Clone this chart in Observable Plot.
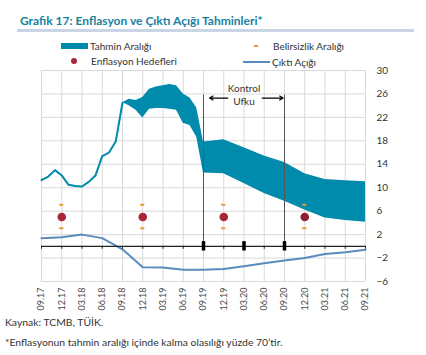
<!DOCTYPE html>
<html><head><meta charset="utf-8">
<script src="https://cdn.jsdelivr.net/npm/d3@7"></script>
<script src="https://cdn.jsdelivr.net/npm/@observablehq/plot@0.6"></script>
<style>
body{margin:0;background:#fff;font-family:Lato,"Noto Sans",sans-serif;}
#wrap{position:relative;width:426px;height:355px;overflow:hidden;background:#fff;}
.t{position:absolute;white-space:nowrap;color:#333;font-size:10px;line-height:12px;height:12px;}
</style></head><body>
<div id="wrap">
  <div class="t" style="left:20px;top:14px;font-weight:bold;color:#17809f;font-size:12px;line-height:14px;height:14px;">Grafik 17: Enflasyon ve Çıktı Açığı Tahminleri*</div>
  <div style="position:absolute;left:17px;top:29px;width:397px;height:3px;background:#c9d5e4"></div>
  <div style="position:absolute;left:61px;top:43px;width:27px;height:6px;background:#008aac"></div>
  <div class="t" style="left:90px;top:40px;">Tahmin Aralığı</div>
  <div style="position:absolute;left:254px;top:45px;width:4px;height:2px;background:#e59b36"></div>
  <div class="t" style="left:273px;top:40px;">Belirsizlik Aralığı</div>
  <div style="position:absolute;left:71px;top:58px;width:6px;height:6px;border-radius:50%;background:#a92639"></div>
  <div class="t" style="left:91px;top:55px;">Enflasyon Hedefleri</div>
  <div style="position:absolute;left:243px;top:61px;width:27px;height:2px;background:#5a8bbf"></div>
  <div class="t" style="left:272px;top:56px;">Çıktı Açığı</div>
  <div id="chart" style="position:absolute;left:0;top:62px;"></div>
  <div class="t" style="left:5px;top:316px;font-size:10.4px;">Kaynak: TCMB, TÜİK.</div>
  <div class="t" style="left:5px;top:336px;font-size:10.4px;">*Enflasyonun tahmin aralığı içinde kalma olasılığı yüzde 70’tir.</div>
</div>
<script>
// quarterly tick labels (month index = 3 * position)
const tickLabels = ["09.17","12.17","03.18","06.18","09.18","12.18","03.19","06.19","09.19","12.19","03.20","06.20","09.20","12.20","03.21","06.21","09.21"];
const yTicks = [-6,-2,2,6,10,14,18,22,26,30];

// realised inflation (month index from 09.17)
const inflMonths = [0,1,2,3,4,5,6,7,8,9,10,11,12];
const inflValues = [11.3,11.9,13.0,12.1,10.5,10.3,10.2,11.0,12.1,15.4,16.0,17.9,24.5];

// forecast / uncertainty band
const bandMonths = [12,13,14,15,16,17,18,19,20,21,22,23,24,27,30,33,36,39,42,45,48];
const bandLow  = [24.5,24.0,23.2,21.9,23.4,23.5,23.5,23.4,23.2,21.0,20.6,18.6,12.5,12.4,10.7,9.0,7.7,6.2,4.85,4.4,4.1];
const bandHigh = [24.5,25.1,24.9,25.4,26.8,27.2,27.4,27.6,27.4,26.0,25.3,23.6,17.8,18.2,16.8,15.4,14.3,12.4,11.4,11.2,11.0];

// output gap (quarterly)
const gapMonths = [0,3,6,9,12,15,18,21,24,27,30,33,36,39,42,45,48];
const gapValues = [1.4,1.55,2.0,1.4,-0.5,-3.55,-3.6,-4.0,-4.0,-3.85,-3.4,-2.9,-2.4,-2.0,-1.3,-1.0,-0.6];

// inflation targets and uncertainty range
const targetMonths = [3,15,27,39];
const targetValues = [5,5,5,5];
const targetColors = ["#a92639","#a92639","#a92639","#8e1d2f"];
const uncLow = [3,3,3,3];
const uncHigh = [7,7,7,7];

// control horizon
const horizon = [24,36];
const markers = [24,30,36];
const horizonLabel = "Kontrol\nUfku";

const teal = "#008aac";
const qIdx = tickLabels.map((d,i)=>i*3);
const infl = inflMonths.map((m,i)=>({m, v: inflValues[i]}));
const band = bandMonths.map((m,i)=>({m, lo: bandLow[i], hi: bandHigh[i]}));
const gap = gapMonths.map((m,i)=>({m, v: gapValues[i]}));
const targets = targetMonths.map((m,i)=>({m, v: targetValues[i], lo: uncLow[i], hi: uncHigh[i], c: targetColors[i]}));
const dashes = targets.flatMap(d=>[{m:d.m, v:d.lo},{m:d.m, v:d.hi}]);
const hc = (horizon[0]+horizon[1])/2;
const arrows = [
  {x1: hc-2.4, x2: horizon[0]+0.9},
  {x1: hc+2.7, x2: horizon[1]-0.2}
];
const arrowY = 25.3;

const plot = Plot.plot({
  width: 426, height: 248,
  marginTop: 8, marginBottom: 29, marginLeft: 41, marginRight: 61,
  style: {fontFamily: "Lato, 'Noto Sans', sans-serif", fontSize: "9px", color: "#333", background: "transparent", overflow: "visible"},
  x: {domain: [0,48], axis: null},
  y: {domain: [-6,30], axis: null},
  marks: [
    Plot.gridX(qIdx, {stroke: "#d9d9d9", strokeOpacity: 1}),
    Plot.gridY(yTicks, {stroke: "#d9d9d9", strokeOpacity: 1}),
    Plot.axisX(qIdx, {tickSize: 0, tickPadding: 6, tickRotate: -90, tickFormat: d => tickLabels[d/3], fill: "#444", fontSize: 9}),
    Plot.axisY(yTicks, {anchor: "right", tickSize: 0, tickPadding: 11, fill: "#333", fontSize: 10}),
    Plot.areaY(band, {x: "m", y1: "lo", y2: "hi", fill: teal}),
    Plot.line(infl, {x: "m", y: "v", stroke: teal, strokeWidth: 2}),
    Plot.line(gap, {x: "m", y: "v", stroke: "#5a8bbf", strokeWidth: 2}),
    Plot.ruleY([0], {stroke: "#222", strokeWidth: 1.3}),
    Plot.ruleX(qIdx, {y1: 0, y2: -0.5, stroke: "#222"}),
    Plot.ruleX(horizon, {y1: 0, y2: 25.8, stroke: "#555"}),
    Plot.ruleX(markers, {y1: -0.8, y2: 0.8, stroke: "#000", strokeWidth: 3.5}),
    Plot.arrow(arrows, {x1: "x1", x2: "x2", y1: arrowY, y2: arrowY, stroke: "#000", strokeWidth: 1.2, headLength: 5}),
    Plot.text([horizonLabel], {x: hc, y: 26.0, text: d => d, lineHeight: 1.33, fontSize: 10, fill: "#333"}),
    Plot.rect(dashes, {x1: d => d.m-0.3, x2: d => d.m+0.3, y1: d => d.v-0.17, y2: d => d.v+0.17, fill: "#e59b36"}),
    Plot.dot(targets, {x: "m", y: "v", r: 4.3, fill: d => d.c})
  ]
});
document.getElementById("chart").appendChild(plot);
</script>
</body></html>
